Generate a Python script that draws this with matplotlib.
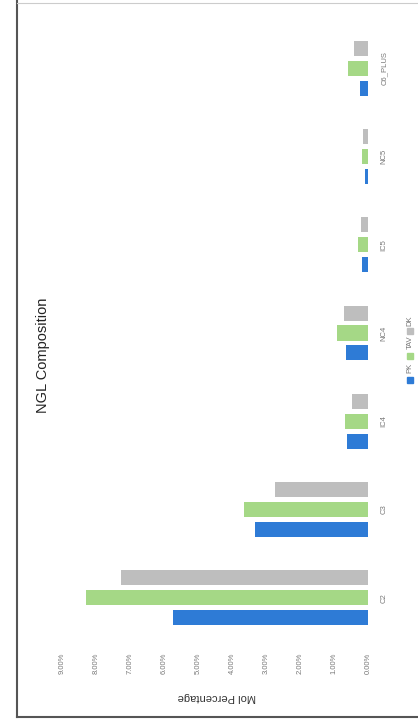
import numpy as np
import matplotlib
matplotlib.use("Agg")
import matplotlib.pyplot as plt
from matplotlib.patches import Rectangle
from matplotlib.lines import Line2D
from matplotlib.ticker import PercentFormatter

categories = ["C2", "C3", "IC4", "NC4", "IC5", "NC5", "C6_PLUS"]
series_names = ["PK", "TAV", "DK"]
pk = [5.75, 3.33, 0.62, 0.65, 0.18, 0.09, 0.24]
tav = [8.29, 3.66, 0.68, 0.91, 0.29, 0.18, 0.59]
dk = [7.26, 2.74, 0.47, 0.71, 0.21, 0.15, 0.41]
colors = ["#2E7BD6", "#A5D886", "#BEBEBE"]

W, H = 418, 721
plt.rcParams["font.family"] = ["Liberation Sans", "DejaVu Sans"]
fig = plt.figure(figsize=(W / 100, H / 100), dpi=100)

left, right, top, bottom = 62, 368, 24, 642
ax = fig.add_axes([left / W, 1 - bottom / H, (right - left) / W, (bottom - top) / H])

y = np.arange(len(categories))
off = 0.226
h = 0.17
for i, (vals, c) in enumerate(zip([pk, tav, dk], colors)):
    ax.barh(y + (i - 1) * off, vals, height=h, color=c, edgecolor="none")

ax.set_xlim(9, 0)
ax.set_ylim(-0.5, len(categories) - 0.5)
ax.set_xticks(np.arange(0, 10, 1))
ax.xaxis.set_major_formatter(PercentFormatter(decimals=2))
ax.tick_params(axis="x", length=0, pad=8, labelsize=5.5, labelcolor="#777777", labelrotation=90)
ax.yaxis.tick_right()
ax.set_yticks(y)
ax.set_yticklabels(categories)
ax.tick_params(axis="y", length=0, pad=9, labelsize=5.5, labelcolor="#777777", labelrotation=90)
for lbl in ax.get_yticklabels():
    lbl.set_va("center")
for s in ax.spines.values():
    s.set_visible(False)

ax.set_xlabel("Mol Percentage", rotation=180, fontsize=8, color="#333333")
ax.xaxis.set_label_coords(0.507, -0.081)

fig.text(43 / W, 1 - 355 / H, "NGL Composition", rotation=90, fontsize=10.5,
         color="#222222", ha="center", va="center")

# legend (rotated, below the original chart -> right side)
leg_x = 410
items = [(380, 368, "PK"), (356, 342, "TAV"), (331, 321, "DK")]
for (sq_y, tx_y, name), c in zip(items, colors):
    fig.patches.append(Rectangle(((leg_x - 3) / W, 1 - (sq_y + 3) / H), 6 / W, 6 / H,
                                 transform=fig.transFigure, color=c))
    fig.text(leg_x / W, 1 - tx_y / H, name, rotation=90, fontsize=5.5,
             color="#777777", ha="center", va="center")

# page frame
fig.lines.append(Line2D([17 / W, 17 / W], [1 - 717 / H, 1.0], transform=fig.transFigure,
                        color="#555555", lw=1.5))
fig.lines.append(Line2D([17 / W, 1.0], [1 - 717 / H, 1 - 717 / H], transform=fig.transFigure,
                        color="#555555", lw=1.5))
fig.lines.append(Line2D([17 / W, 1.0], [1 - 3 / H, 1 - 3 / H], transform=fig.transFigure,
                        color="#cccccc", lw=0.8))

fig.savefig("out.png", dpi=100)
